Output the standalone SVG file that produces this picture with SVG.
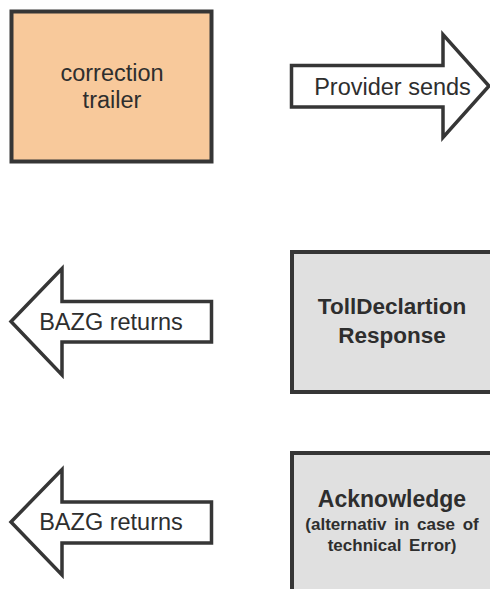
<svg xmlns="http://www.w3.org/2000/svg" width="490" height="589" viewBox="0 0 490 589">
<style>
.box{stroke:#363636;stroke-width:4}
.arrow{fill:#ffffff;stroke:#363636;stroke-width:3.5;stroke-linejoin:miter}
text{font-family:"Liberation Sans",Arial,sans-serif;fill:#2e2e2e;text-anchor:middle}
.lbl{font-size:23.5px}
.hd{font-size:22.5px;font-weight:bold}
.sm{font-size:17px;font-weight:bold;word-spacing:3px}
</style>
<rect width="490" height="589" fill="#ffffff"/>
<g id="correction-trailer">
<rect class="box" x="11.5" y="11.5" width="200" height="150" fill="#F8C99B"/>
<text class="lbl" x="112" y="81">correction</text>
<text class="lbl" x="112" y="107.5">trailer</text>
</g>
<g id="connectors">
<g id="provider-sends">
<polygon class="arrow" points="291.5,65.5 443,65.5 443,34.5 489,86 443,137.5 443,107 291.5,107"/>
<text class="lbl" x="392.5" y="95">Provider sends</text>
</g>
<g id="bazg-returns-1">
<polygon class="arrow" points="211.5,301.5 62,301.5 62,268.5 11,321.5 62,375 62,342 211.5,342"/>
<text class="lbl" x="111" y="329.5">BAZG returns</text>
</g>
<g id="bazg-returns-2">
<polygon class="arrow" points="211.5,502 62,502 62,469.5 11,522 62,575 62,543 211.5,543"/>
<text class="lbl" x="111" y="529.5">BAZG returns</text>
</g>
</g>
<g id="tolldeclaration-response">
<rect class="box" x="292" y="252" width="200" height="140" fill="#E0E0E0"/>
<text class="hd" x="392" y="314">TollDeclartion</text>
<text class="hd" x="392" y="343">Response</text>
</g>
<g id="acknowledge">
<rect class="box" x="292" y="453" width="200" height="150" fill="#E0E0E0"/>
<text class="hd" x="392" y="507" style="font-size:23px">Acknowledge</text>
<text class="sm" x="392" y="530">(alternativ in case of</text>
<text class="sm" x="392" y="551">technical Error)</text>
</g>
</svg>
